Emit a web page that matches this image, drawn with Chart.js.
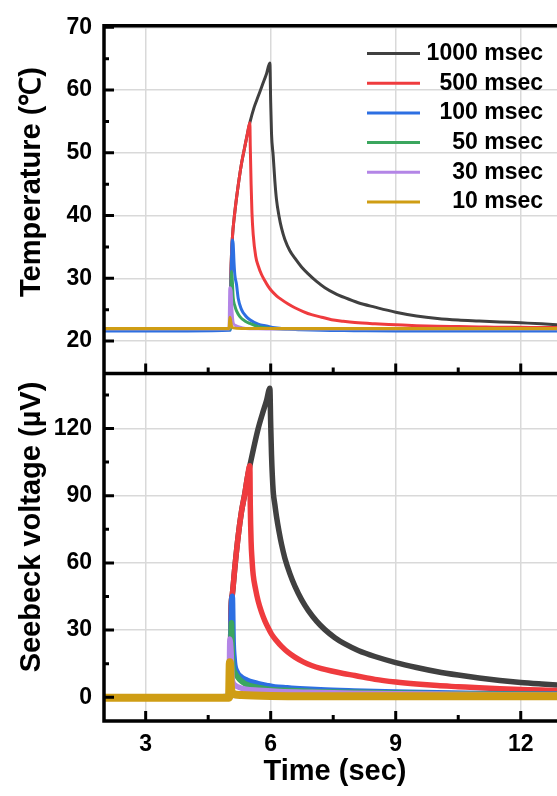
<!DOCTYPE html>
<html>
<head>
<meta charset="utf-8">
<script src="https://cdn.jsdelivr.net/npm/chart.js"></script>
<style>
  html, body { margin: 0; padding: 0; background: #fff; overflow: hidden; }
  canvas { display: block; }
</style>
</head>
<body>
<canvas id="myChart" width="557" height="796"></canvas>
<script>
// 數據
const pulseLabels = ["1000 msec", "500 msec", "100 msec", "50 msec", "30 msec", "10 msec"];
const pulseColors = ["#404040", "#ef3b3e", "#2d6fe2", "#3ba65e", "#b385e6", "#cf9d14"];

// 1000 msec
const t1000 = [2, 3, 4, 5.02, 5.05, 5.08, 5.14, 5.22, 5.3, 5.38, 5.44, 5.5, 5.6, 5.7, 5.8, 5.9, 5.98, 6.0, 6.02, 6.06, 6.1, 6.14, 6.2, 6.26, 6.34, 6.46, 6.58, 6.74, 6.9, 7.1, 7.3, 7.54, 7.78, 8.1, 8.5, 9.0, 9.5, 10.0, 10.5, 11.0, 11.5, 12.0, 12.5, 12.9];
const temp1000 = [21.9, 21.9, 21.9, 21.9, 32, 36.4, 40.6, 44.8, 48.3, 51, 53, 54.8, 57.2, 59.0, 60.8, 62.6, 64.3, 58, 53, 49.5, 45.5, 42.5, 39.9, 38.0, 36.2, 34.4, 33.2, 31.8, 30.7, 29.5, 28.5, 27.6, 26.9, 26.1, 25.4, 24.6, 24.0, 23.6, 23.35, 23.2, 23.05, 22.9, 22.75, 22.6];
const volt1000 = [0, 0, 0, 0, 40, 46, 58, 72, 83, 91, 98, 103.4, 112, 120, 126.5, 132.5, 138, 122, 108, 92, 86, 80.6, 74, 68.3, 62.1, 55.2, 49.6, 43.6, 38.8, 34.0, 30.2, 26.6, 23.8, 20.9, 18.2, 15.5, 13.3, 11.4, 9.9, 8.6, 7.5, 6.6, 5.9, 5.4];

// 500 msec
const t500 = [2, 3, 4, 5.02, 5.05, 5.08, 5.14, 5.22, 5.3, 5.38, 5.44, 5.5, 5.51, 5.53, 5.55, 5.58, 5.64, 5.7, 5.78, 5.86, 5.94, 6.02, 6.14, 6.26, 6.42, 6.58, 6.78, 6.98, 7.22, 7.46, 7.74, 8.02, 8.5, 9.0, 9.5, 10.0, 10.5, 11.0, 11.5, 12.0, 12.5, 12.9];
const temp500 = [21.9, 21.9, 21.9, 21.9, 32, 36.4, 40.6, 44.8, 48.3, 51, 53, 54.8, 51, 45, 40.5, 37, 33.5, 32.0, 30.6, 29.6, 28.7, 28.0, 27.2, 26.6, 25.9, 25.3, 24.7, 24.2, 23.8, 23.4, 23.15, 22.95, 22.75, 22.6, 22.45, 22.35, 22.3, 22.25, 22.2, 22.2, 22.15, 22.15];
const volt500 = [0, 0, 0, 0, 40, 46, 58, 72, 83, 91, 98, 103.4, 86, 69.4, 62, 54.7, 48, 42.9, 38, 34.1, 31, 28.2, 25.2, 22.7, 20.0, 17.9, 15.8, 14.2, 12.8, 11.7, 10.6, 9.7, 8.0, 6.8, 5.9, 5.2, 4.7, 4.2, 3.8, 3.5, 3.2, 3.0];

// 100 msec
const t100 = [2, 3, 4, 5.03, 5.05, 5.08, 5.1, 5.12, 5.14, 5.18, 5.22, 5.3, 5.4, 5.5, 5.7, 5.9, 6.1, 6.4, 6.7, 7.2, 8, 9, 10, 11, 12, 12.9];
const temp100 = [21.6, 21.6, 21.6, 21.7, 30, 36.1, 35.5, 32.5, 30.5, 29.0, 26.8, 25.0, 24.0, 23.4, 22.7, 22.4, 22.1, 21.9, 21.8, 21.7, 21.65, 21.6, 21.6, 21.6, 21.6, 21.6];
const volt100 = [0, 0, 0, 0.5, 35, 45.1, 24.5, 18, 14.2, 11.8, 10.4, 9.0, 7.9, 7.1, 6.1, 5.3, 4.6, 4.2, 3.8, 3.3, 2.8, 2.3, 2.0, 1.7, 1.5, 1.4];

// 50 msec
const t50 = [2, 3, 4, 5.03, 5.05, 5.06, 5.08, 5.1, 5.14, 5.18, 5.26, 5.38, 5.5, 5.7, 5.86, 6.0, 6.5, 7, 8, 9, 10, 11, 12, 12.9];
const temp50 = [21.9, 21.9, 21.9, 21.9, 29, 31.1, 29.5, 26.9, 25.6, 24.8, 23.9, 23.2, 22.8, 22.3, 22.1, 22.0, 21.9, 21.9, 21.9, 21.9, 21.9, 21.9, 21.9, 21.9];
const volt50 = [0, 0, 0, 0.3, 28, 33.3, 17.1, 13, 11, 9.7, 7.8, 6.1, 5.2, 4.4, 3.8, 3.5, 3.0, 2.6, 2.2, 1.9, 1.6, 1.4, 1.3, 1.2];

// 30 msec
const t30 = [2, 3, 4, 5.0, 5.02, 5.05, 5.07, 5.1, 5.15, 5.22, 5.4, 5.7, 6.2, 7, 8, 9, 10, 11, 12, 12.9];
const temp30 = [21.9, 21.9, 21.9, 21.9, 28.5, 28, 25, 22.9, 22.5, 22.3, 22.0, 21.95, 21.9, 21.9, 21.9, 21.9, 21.9, 21.9, 21.9, 21.9];
const volt30 = [0, 0, 0, 0, 26, 20, 9.7, 6.5, 5.3, 4.6, 3.6, 3.1, 2.6, 2.2, 1.8, 1.6, 1.4, 1.2, 1.1, 1.0];

// 10 msec
const t10 = [2, 3, 4, 5.0, 5.02, 5.04, 5.06, 5.1, 5.3, 6, 7, 8, 9, 10, 11, 12, 12.9];
const temp10 = [22.0, 22.0, 22.0, 22.0, 23.8, 23.2, 22.4, 22.1, 22.0, 22.0, 22.0, 22.0, 22.0, 22.0, 22.0, 22.0, 22.0];
const volt10 = [-0.2, -0.2, -0.2, -0.2, 15.6, 6, 2.5, 1.5, 1.0, 0.6, 0.5, 0.5, 0.5, 0.5, 0.5, 0.5, 0.5];

// 軸刻度
const timeTicks = [3, 6, 9, 12];
const timeMinorTicks = [4.5, 7.5, 10.5];
const tempTicks = [20, 30, 40, 50, 60, 70];
const tempMinorTicks = [25, 35, 45, 55, 65];
const voltTicks = [0, 30, 60, 90, 120];
const voltMinorTicks = [15, 45, 75, 105, 135];

const timeRange = [2, 12.87];
const tempRange = [14.84, 70.24];
const voltRange = [-10.6, 144.6];

const seriesTimes = [t1000, t500, t100, t50, t30, t10];
const seriesTemps = [temp1000, temp500, temp100, temp50, temp30, temp10];
const seriesVolts = [volt1000, volt500, volt100, volt50, volt30, volt10];

function toPoints(ts, vs) {
  return ts.map((t, i) => ({ x: t, y: vs[i] }));
}

const datasets = [];
pulseLabels.forEach((label, i) => {
  datasets.push({
    label: label,
    data: toPoints(seriesTimes[i], seriesTemps[i]),
    yAxisID: "yT",
    borderColor: pulseColors[i],
    borderWidth: 3,
    order: 6 - i,
  });
  datasets.push({
    label: label,
    data: toPoints(seriesTimes[i], seriesVolts[i]),
    yAxisID: "yV",
    borderColor: pulseColors[i],
    borderWidth: i === 5 ? 8 : 5.5,
    order: 6 - i,
  });
});

const fontFamily = "'Liberation Sans', Arial, sans-serif";
const gridColor = "#d9d9d9";

function fixTicks(values) {
  return (scale) => {
    scale.ticks = values.map((v) => ({ value: v }));
  };
}

// 外框、向內刻度、標題、圖例
const framePlugin = {
  id: "frame",
  afterDatasetsDraw(chart) {
    const { ctx, chartArea: ca, scales } = chart;
    const yT = scales.yT, yV = scales.yV, x = scales.x;
    const right = ca.right + 10;
    ctx.save();
    ctx.strokeStyle = "#000";
    ctx.lineWidth = 3.5;
    ctx.beginPath();
    ctx.moveTo(right, ca.top);
    ctx.lineTo(ca.left, ca.top);
    ctx.lineTo(ca.left, ca.bottom);
    ctx.lineTo(right, ca.bottom);
    ctx.moveTo(ca.left, yT.bottom);
    ctx.lineTo(right, yT.bottom);
    ctx.stroke();

    ctx.lineWidth = 3;
    ctx.beginPath();
    const yTick = (scale, vals, len) => {
      vals.forEach((v) => {
        const py = scale.getPixelForValue(v);
        ctx.moveTo(ca.left, py);
        ctx.lineTo(ca.left + len, py);
      });
    };
    yTick(yT, tempTicks, 10);
    yTick(yT, tempMinorTicks, 5);
    yTick(yV, voltTicks, 10);
    yTick(yV, voltMinorTicks, 5);
    const xTick = (base, vals, len) => {
      vals.forEach((v) => {
        const px = x.getPixelForValue(v);
        ctx.moveTo(px, base);
        ctx.lineTo(px, base - len);
      });
    };
    xTick(yT.bottom, timeTicks, 10);
    xTick(yT.bottom, timeMinorTicks, 6);
    xTick(ca.bottom, timeTicks, 10);
    xTick(ca.bottom, timeMinorTicks, 6);
    ctx.stroke();
    ctx.restore();
  },
  afterDraw(chart) {
    const { ctx } = chart;
    ctx.save();
    ctx.fillStyle = "#000";
    ctx.font = "bold 29px " + fontFamily;
    ctx.textAlign = "center";
    ctx.textBaseline = "middle";
    // y 軸標題
    [["Temperature (℃)", 182], ["Seebeck voltage (µV)", 527]].forEach(([text, cy]) => {
      ctx.save();
      ctx.translate(32, cy);
      ctx.rotate(-Math.PI / 2);
      ctx.fillText(text, 0, 0);
      ctx.restore();
    });
    ctx.fillText("Time (sec)", 335, 772);

    // 圖例
    ctx.font = "bold 23px " + fontFamily;
    ctx.textAlign = "right";
    pulseLabels.forEach((label, i) => {
      const ly = 53.5 + i * 29.7;
      ctx.strokeStyle = pulseColors[i];
      ctx.lineWidth = 3;
      ctx.beginPath();
      ctx.moveTo(367, ly);
      ctx.lineTo(420, ly);
      ctx.stroke();
      ctx.fillText(label, 543, ly);
    });
    ctx.restore();
  },
};

const tickFont = { family: fontFamily, size: 23, weight: "bold" };

const chart = new Chart(document.getElementById("myChart"), {
  type: "line",
  data: { datasets: datasets },
  plugins: [framePlugin],
  options: {
    responsive: false,
    animation: false,
    layout: { padding: { top: 19, left: 0, right: 0, bottom: 0 } },
    elements: {
      point: { radius: 0 },
      line: { cubicInterpolationMode: "monotone", borderCapStyle: "round", borderJoinStyle: "round" },
    },
    plugins: {
      legend: { display: false },
      tooltip: { enabled: false },
    },
    scales: {
      x: {
        type: "linear",
        min: timeRange[0],
        max: timeRange[1],
        afterBuildTicks: fixTicks(timeTicks),
        afterFit: (scale) => { scale.height = 75; },
        border: { display: false },
        grid: { color: gridColor, lineWidth: 1.5, drawTicks: false },
        ticks: { color: "#000", font: tickFont, padding: 10, maxRotation: 0, autoSkip: false },
      },
      yV: {
        type: "linear",
        position: "left",
        stack: "panels",
        stackWeight: 1,
        min: voltRange[0],
        max: voltRange[1],
        afterBuildTicks: fixTicks(voltTicks),
        afterFit: (scale) => { scale.width = 104; },
        border: { display: false },
        grid: { color: gridColor, lineWidth: 1.5, drawTicks: false },
        ticks: { color: "#000", font: tickFont, padding: 12, autoSkip: false },
      },
      yT: {
        type: "linear",
        position: "left",
        stack: "panels",
        stackWeight: 1,
        min: tempRange[0],
        max: tempRange[1],
        afterBuildTicks: fixTicks(tempTicks),
        afterFit: (scale) => { scale.width = 104; },
        border: { display: false },
        grid: { color: gridColor, lineWidth: 1.5, drawTicks: false },
        ticks: { color: "#000", font: tickFont, padding: 12, autoSkip: false },
      },
    },
  },
});
</script>
</body>
</html>
